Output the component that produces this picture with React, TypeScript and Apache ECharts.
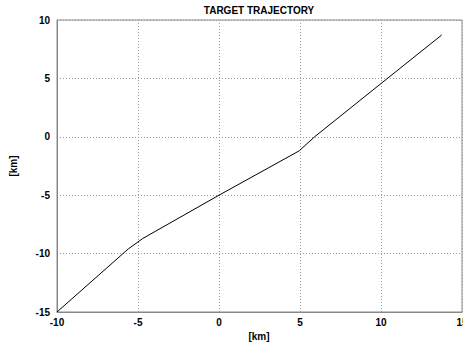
import React, { useEffect, useRef } from "react";
import * as echarts from "echarts";

const trajX = [-10, -5.6, -4.7, 0, 4.5, 4.95, 5.9, 10, 13.75];
const trajY = [-15, -9.6, -8.7, -5, -1.55, -1.2, 0, 4.56, 8.72];
const xTicks = [-10, -5, 0, 5, 10, 15];
const yTicks = [-15, -10, -5, 0, 5, 10];

const FONT = "'Liberation Sans', Arial, Helvetica, sans-serif";

export default function App() {
  const ref = useRef<HTMLDivElement>(null);
  useEffect(() => {
    if (!ref.current) return;
    const chart = echarts.init(ref.current, null, { renderer: "svg" });
    const labelStyle = { color: "#000", fontFamily: FONT, fontWeight: "bold" as const, fontSize: 10 };
    const txt = (text: string, x: number, y: number, rotation = 0) => ({
      type: "text",
      x,
      y,
      rotation,
      style: {
        text,
        fill: "#000",
        font: "bold 10px " + FONT,
        textAlign: "center",
        textVerticalAlign: "middle",
      },
    });
    chart.setOption({
      animation: false,
      backgroundColor: "#fff",
      graphic: [
        txt("TARGET TRAJECTORY", 259, 10),
        txt("[km]", 259, 336),
        txt("[km]", 13, 166, Math.PI / 2),
      ],
      grid: {
        left: 57,
        right: 1,
        top: 20,
        bottom: 42,
        show: true,
        borderColor: "#888",
        borderWidth: 1,
        containLabel: false,
        outerBoundsMode: "none",
      },
      xAxis: {
        type: "value",
        min: xTicks[0],
        max: xTicks[xTicks.length - 1],
        interval: 5,
        axisLine: { show: true, onZero: false, lineStyle: { color: "#888", width: 1 } },
        axisTick: { show: false },
        axisLabel: { ...labelStyle, margin: 5 },
        splitLine: { show: true, lineStyle: { color: "#999", type: [1, 2], width: 1 } },
      },
      yAxis: {
        type: "value",
        min: yTicks[0],
        max: yTicks[yTicks.length - 1],
        interval: 5,
        axisLine: { show: true, onZero: false, lineStyle: { color: "#888", width: 1 } },
        axisTick: { show: false },
        axisLabel: { ...labelStyle, margin: 7 },
        splitLine: { show: true, lineStyle: { color: "#999", type: [1, 2], width: 1 } },
      },
      series: [
        {
          type: "line",
          data: trajX.map((x, i) => [x, trajY[i]]),
          symbol: "none",
          lineStyle: { color: "#000", width: 1 },
        },
      ],
    });
    return () => chart.dispose();
  }, []);
  return (
    <div
      ref={ref}
      style={{ position: "fixed", left: 0, top: 0, width: 463, height: 354, background: "#fff" }}
    />
  );
}
